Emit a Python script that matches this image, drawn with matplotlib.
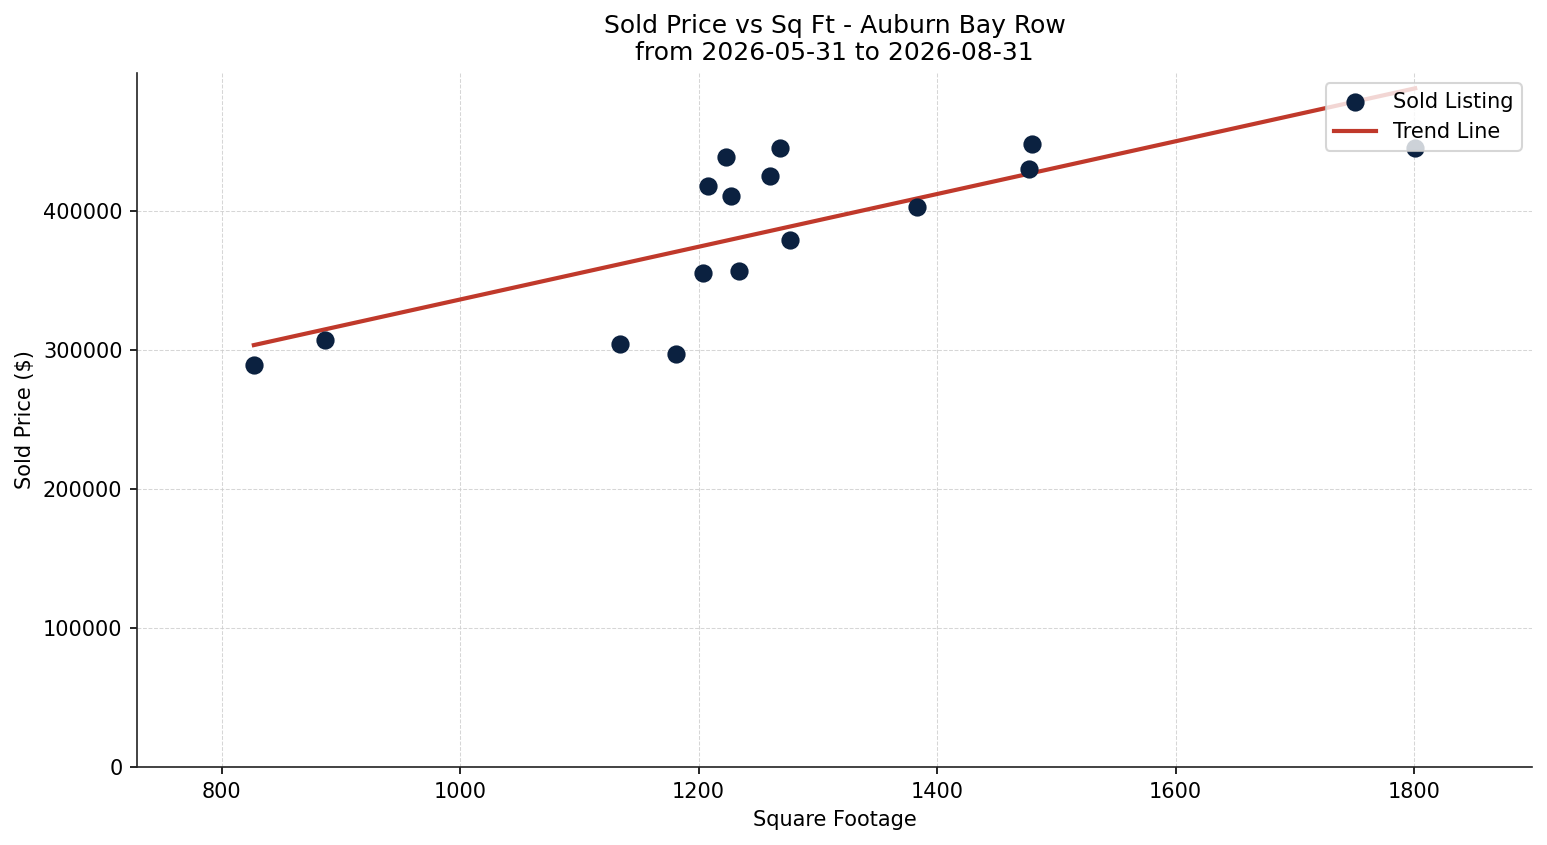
import numpy as np
import matplotlib
matplotlib.use('Agg')
import matplotlib.pyplot as plt

# sold listings
sqft = [827, 887, 1134, 1181, 1204, 1208, 1223, 1227, 1234, 1260, 1268, 1277, 1383, 1477, 1480, 1801]
price = [289200, 307200, 304300, 297100, 355400, 418000, 438800, 410800, 356800, 425200, 445300, 379100, 402900, 430200, 448200, 445300]

title = 'Sold Price vs Sq Ft - Auburn Bay Row\nfrom 2026-05-31 to 2026-08-31'

fig = plt.figure(figsize=(1547/150, 845/150), dpi=150)
ax = fig.gca()

ax.scatter(sqft, price, s=60, color='#0b2140', label='Sold Listing', zorder=3)

# least squares trend
m, b = np.polyfit(sqft, price, 1)
xs = np.array([min(sqft), max(sqft)])
ax.plot(xs, m*xs + b, color='#c0392b', lw=2, label='Trend Line', zorder=2)

ax.set_xlim(729, 1899)
ax.set_ylim(0, 499300)
ax.set_title(title, fontsize=12)
ax.set_xlabel('Square Footage')
ax.set_ylabel('Sold Price ($)')
ax.grid(True, ls='--', lw=0.5, color='#cccccc', alpha=0.8)
ax.set_axisbelow(True)
for s in ['top', 'right']:
    ax.spines[s].set_visible(False)
for s in ['left', 'bottom']:
    ax.spines[s].set_color('#222222')
ax.legend(loc='upper right')

plt.subplots_adjust(left=137/1547, right=1532/1547, top=1-73/845, bottom=1-767/845)
plt.savefig('out.png', dpi=150)
